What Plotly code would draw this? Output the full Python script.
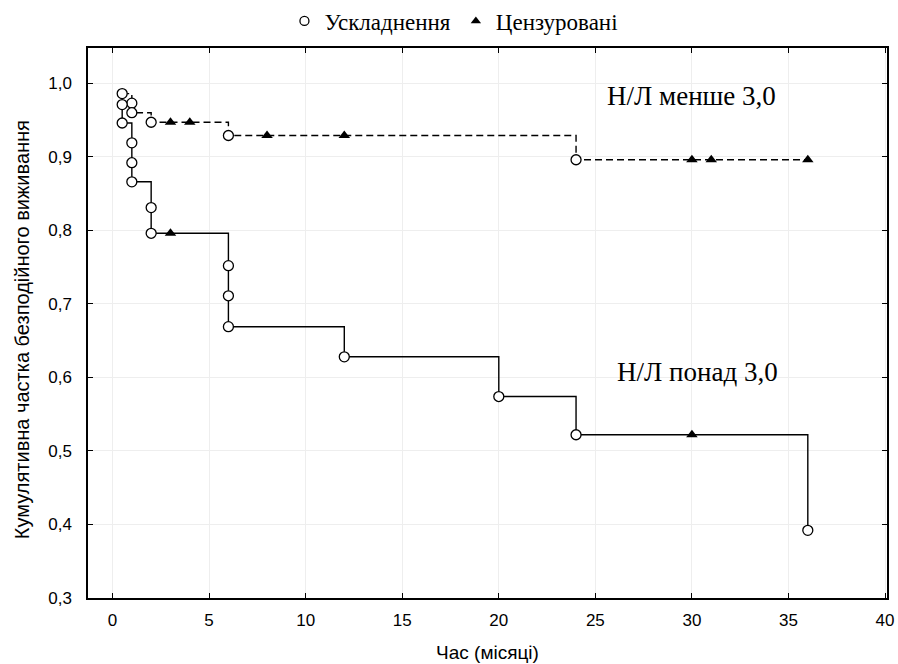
import plotly.graph_objects as go

# Group: Н/Л понад 3,0 (solid line)
hi_time = [0.5, 0.5, 1, 1, 1, 2, 2, 3, 6, 6, 6, 12, 20, 24, 30, 36]
hi_surv = [0.971, 0.946, 0.919, 0.892, 0.866, 0.831, 0.796, 0.796, 0.752, 0.711, 0.669, 0.628, 0.574, 0.522, 0.522, 0.392]
hi_cens = [0, 0, 0, 0, 0, 0, 0, 1, 0, 0, 0, 0, 0, 0, 1, 0]

# Group: Н/Л менше 3,0 (dashed line)
lo_time = [0.5, 1, 1, 2, 3, 4, 6, 8, 12, 24, 30, 31, 36]
lo_surv = [0.986, 0.973, 0.960, 0.947, 0.947, 0.947, 0.929, 0.929, 0.929, 0.896, 0.896, 0.896, 0.896]
lo_cens = [0, 0, 0, 0, 1, 1, 0, 1, 1, 0, 1, 1, 1]

x_ticks = [0, 5, 10, 15, 20, 25, 30, 35, 40]
y_ticks = [0.3, 0.4, 0.5, 0.6, 0.7, 0.8, 0.9, 1.0]

legend_labels = ["Ускладнення", "Цензуровані"]
group_labels = ["Н/Л менше 3,0", "Н/Л понад 3,0"]
x_title = "Час (місяці)"
y_title = "Кумулятивна частка безподійного виживання"

serif = "Liberation Serif, Times New Roman, serif"
sans = "Liberation Sans, Arial, sans-serif"

fig = go.Figure()

def add_group(t, s, c, dash):
    fig.add_trace(go.Scatter(x=t, y=s, mode="lines", line=dict(color="black", width=1.4, dash=dash, shape="hv"),
                             showlegend=False, hoverinfo="skip"))
    ev_x = [a for a, k in zip(t, c) if k == 0]
    ev_y = [b for b, k in zip(s, c) if k == 0]
    ce_x = [a for a, k in zip(t, c) if k == 1]
    ce_y = [b for b, k in zip(s, c) if k == 1]
    fig.add_trace(go.Scatter(x=ev_x, y=ev_y, mode="markers",
                             marker=dict(symbol="circle", size=10, color="white", line=dict(color="black", width=1.3)),
                             showlegend=False, cliponaxis=False))
    fig.add_trace(go.Scatter(x=ce_x, y=ce_y, mode="markers",
                             marker=dict(symbol="triangle-up", size=10, color="black", line=dict(width=0)),
                             showlegend=False, cliponaxis=False))

add_group(lo_time, lo_surv, lo_cens, "7px,4px")
add_group(hi_time, hi_surv, hi_cens, "solid")

# legend entries
fig.add_trace(go.Scatter(x=[None], y=[None], mode="markers", name=legend_labels[0],
                         marker=dict(symbol="circle", size=9, color="white", line=dict(color="black", width=1.3))))
fig.add_trace(go.Scatter(x=[None], y=[None], mode="markers", name=legend_labels[1],
                         marker=dict(symbol="triangle-up", size=9, color="black", line=dict(width=0))))

fig.add_annotation(x=30.0, y=0.983, text=group_labels[0], showarrow=False, xref="x", yref="y",
                   font=dict(family=serif, size=27, color="black"))
fig.add_annotation(x=30.3, y=0.607, text=group_labels[1], showarrow=False, xref="x", yref="y",
                   font=dict(family=serif, size=27, color="black"))
fig.add_annotation(x=-0.0826, y=0.487, xref="paper", yref="paper", text=y_title, textangle=-90,
                   showarrow=False, xanchor="center", yanchor="middle",
                   font=dict(family=sans, size=20, color="black"))

axis_common = dict(showline=True, linecolor="black", linewidth=1.5, mirror="allticks",
                   ticks="inside", ticklen=5, tickcolor="black", tickwidth=1.2,
                   showgrid=True, gridcolor="#eeeeee", gridwidth=1, zeroline=False, automargin=False,
                   tickfont=dict(family=sans, size=17, color="black"))

fig.update_xaxes(range=[-1.27, 40.1], tickvals=x_ticks, ticktext=[str(v) for v in x_ticks],
                 title=dict(text=x_title, font=dict(family=sans, size=19, color="black"), standoff=17),
                 ticklabelstandoff=6, **axis_common)
fig.update_yaxes(range=[0.3, 1.048], tickvals=y_ticks, tickformat=".1f",
                 ticklabelstandoff=11, **axis_common)

fig.update_layout(width=898, height=664, margin=dict(l=88, r=11, t=48, b=66, autoexpand=False),
                  paper_bgcolor="white", plot_bgcolor="white", separators=", ",
                  showlegend=True,
                  legend=dict(orientation="h", x=0.458, xanchor="center", y=1.01, yanchor="bottom",
                              font=dict(family=serif, size=23, color="black"), itemwidth=30,
                              bgcolor="rgba(0,0,0,0)"))

fig.write_html("out.html", config={"displayModeBar": False},
               post_script="document.body.style.margin='0';document.body.style.padding='0';")
